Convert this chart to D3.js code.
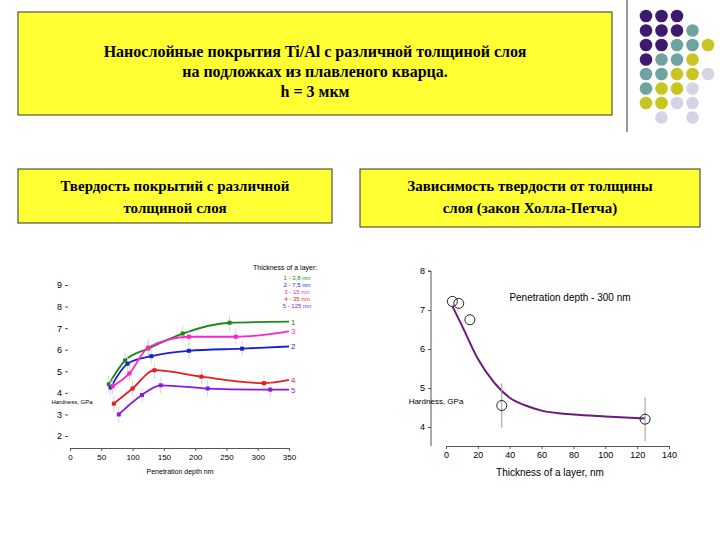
<!DOCTYPE html>
<html><head><meta charset="utf-8">
<script src="https://cdn.jsdelivr.net/npm/d3@7"></script>
<style>body{margin:0;background:#fff}svg{display:block}</style>
</head><body>
<svg id="s" width="720" height="540"></svg>
<script>
// ---- data: left chart ----
const seriesNames = ["1","2","3","4","5"];
const legendLabels = ["1 - 3,8 nm","2 - 7,5 nm","3 - 15 nm","4 - 35 nm","5 - 125 nm"];
const seriesColors = ["#1a8a1a","#1f1fd0","#ff22cc","#e81c1c","#8a1ae0"];
const depth1 = [62,88,125,180,255], hard1 = [4.4,5.5,6.05,6.75,7.25];
const depth2 = [65,92,130,190,275], hard2 = [4.25,5.35,5.7,5.95,6.05];
const depth3 = [68,95,125,190,265], hard3 = [4.3,4.9,6.1,6.6,6.6];
const depth4 = [70,100,135,210,310], hard4 = [3.5,4.2,5.05,4.75,4.45];
const depth5 = [78,115,145,220,320], hard5 = [3.0,3.9,4.35,4.2,4.15];
const fitEnd = [7.3,6.15,6.85,4.6,4.15];
const leftXTicks = [0,50,100,150,200,250,300,350];
const leftYTicks = [2,3,4,5,6,7,8,9];
// ---- data: right chart ----
const thick = [4,8,15,35,125];
const hardT = [7.22,7.17,6.75,4.55,4.2];
const fitThick = [4,10,20,30,40,50,60,80,100,125];
const fitHard = [7.1,6.6,5.75,5.15,4.75,4.55,4.42,4.32,4.27,4.22];
const rightXTicks = [0,20,40,60,80,100,120,140];
const rightYTicks = [4,5,6,7,8];

const svg = d3.select("#s");
const serif = "'Liberation Serif','DejaVu Serif',serif";
const sans = "'Liberation Sans',Arial,sans-serif";
const fmt = d3.format("d");

svg.append("rect").attr("x",18).attr("y",12).attr("width",594).attr("height",103)
  .attr("fill","#ffff33").attr("stroke","#333").attr("stroke-width",1);
["Нанослойные покрытия Ti/Al с различной толщиной слоя","на подложках из плавленого кварца.","h = 3 мкм"]
 .forEach((t,i)=>svg.append("text").attr("x",315).attr("y",57+i*20).attr("text-anchor","middle")
  .attr("font-family",serif).attr("font-weight","bold").attr("font-size",16).text(t));
svg.append("line").attr("x1",627).attr("x2",627).attr("y1",0).attr("y2",132).attr("stroke","#333");
const P="#3d1a6e",T="#6fa3a0",Y="#c8c420",L="#d4d4e4";
const dotRows=[[P,P,P],[P,P,P,T],[P,P,T,T,Y],[P,T,T,Y],[T,T,Y,Y,L],[T,Y,Y,L],[Y,Y,L,L],[null,L,null,L]];
dotRows.forEach((r,i)=>r.forEach((c,j)=>{ if(c) svg.append("circle").attr("cx",646+j*15.5).attr("cy",16+i*14.5).attr("r",6.3).attr("fill",c);}));

function box(x,y,w,h,lines){
  svg.append("rect").attr("x",x).attr("y",y).attr("width",w).attr("height",h).attr("fill","#ffff33").attr("stroke","#333");
  lines.forEach((t,i)=>svg.append("text").attr("x",x+w/2).attr("y",y+22+i*22).attr("text-anchor","middle")
   .attr("font-family",serif).attr("font-weight","bold").attr("font-size",15).text(t));
}
box(18,169,314,54,["Твердость покрытий с различной","толщиной слоя"]);
box(360,169,340,58,["Зависимость твердости от толщины","слоя (закон Холла-Петча)"]);

// ---- left chart ----
const xL = d3.scaleLinear().domain([0,350]).range([70,289]);
const yL = d3.scaleLinear().domain([2,9]).range([436,285]);
const gL = svg.append("g").attr("font-family",sans);
gL.append("g").attr("transform","translate(0,448)").call(d3.axisBottom(xL).tickValues(leftXTicks).tickFormat(fmt).tickSize(3))
  .call(g=>g.selectAll("text").attr("font-size",8).attr("font-family",sans));
gL.append("g").attr("transform","translate(68,0)").call(d3.axisLeft(yL).tickValues(leftYTicks).tickFormat(fmt).tickSize(3))
  .call(g=>g.select(".domain").remove()).call(g=>g.selectAll("text").attr("font-size",9).attr("font-family",sans));
gL.selectAll("path.domain,line").attr("stroke","#555");
gL.append("text").attr("x",180).attr("y",474).attr("text-anchor","middle").attr("font-size",7).text("Penetration depth  nm");
gL.append("text").attr("x",72).attr("y",404).attr("text-anchor","middle").attr("font-size",6).text("Hardness, GPa");
gL.append("text").attr("x",253).attr("y",270).attr("font-size",7).text("Thickness of a layer:");
legendLabels.forEach((t,i)=>gL.append("text").attr("x",297).attr("y",280+i*7).attr("text-anchor","middle")
  .attr("font-size",6).attr("fill",seriesColors[i]).text(t));
const depths=[depth1,depth2,depth3,depth4,depth5], hards=[hard1,hard2,hard3,hard4,hard5];
const line = d3.line().curve(d3.curveMonotoneX);
depths.forEach((d,k)=>{
  const pts=d.map((x,i)=>[xL(x),yL(hards[k][i])]).concat([[xL(350),yL(fitEnd[k])]]);
  gL.append("path").attr("d",line(pts)).attr("fill","none").attr("stroke",seriesColors[k]).attr("stroke-width",1.8);
  d.forEach((x,i)=>{
    const cx=xL(x), cy=yL(hards[k][i]);
    gL.append("line").attr("x1",cx).attr("x2",cx).attr("y1",cy-8).attr("y2",cy+8).attr("stroke","#ccc").attr("stroke-width",0.8);
    gL.append("rect").attr("x",cx-2).attr("y",cy-2).attr("width",4).attr("height",4).attr("fill",seriesColors[k]);
  });
  gL.append("text").attr("x",291).attr("y",yL(fitEnd[k])+3).attr("font-size",8).attr("fill",seriesColors[k]).text(seriesNames[k]);
});

// ---- right chart ----
const xR = d3.scaleLinear().domain([0,140]).range([446,669]);
const yR = d3.scaleLinear().domain([4,8]).range([427,271]);
const gR = svg.append("g").attr("font-family",sans);
gR.append("g").attr("transform","translate(0,446)").call(d3.axisBottom(xR).tickValues(rightXTicks).tickFormat(fmt).tickSize(3))
  .call(g=>g.selectAll("text").attr("font-size",9).attr("font-family",sans));
gR.append("g").attr("transform","translate(431,0)").call(d3.axisLeft(yR).tickValues(rightYTicks).tickFormat(fmt).tickSize(3))
  .call(g=>g.select(".domain").attr("d","M-3,271H0V446")).call(g=>g.selectAll("text").attr("font-size",9).attr("font-family",sans));
gR.selectAll("path.domain,line").attr("stroke","#555");
gR.append("text").attr("x",550).attr("y",476).attr("text-anchor","middle").attr("font-size",10).text("Thickness of a layer, nm");
gR.append("text").attr("x",570).attr("y",301).attr("text-anchor","middle").attr("font-size",10).text("Penetration depth - 300 nm");
gR.append("text").attr("x",436).attr("y",404).attr("text-anchor","middle").attr("font-size",8).text("Hardness, GPa");
gR.append("path").attr("d",d3.line().curve(d3.curveMonotoneX)(fitThick.map((x,i)=>[xR(x),yR(fitHard[i])])))
  .attr("fill","none").attr("stroke","#6a1a7a").attr("stroke-width",2);
thick.forEach((x,i)=>{
  const cx=xR(x), cy=yR(hardT[i]);
  if(i>=3) gR.append("line").attr("x1",cx).attr("x2",cx).attr("y1",cy-22).attr("y2",cy+22).attr("stroke","#999");
  gR.append("circle").attr("cx",cx).attr("cy",cy).attr("r",5).attr("fill","none").attr("stroke","#222");
});
</script>
</body></html>
